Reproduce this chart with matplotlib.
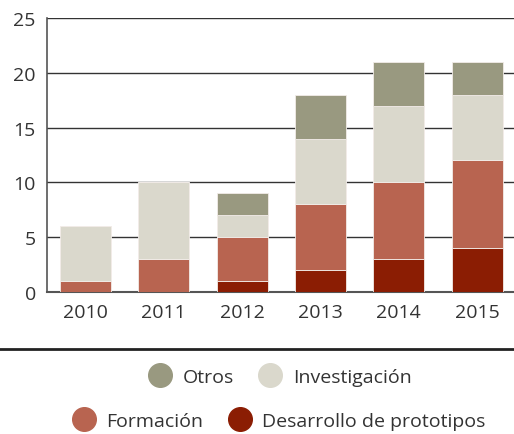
import matplotlib.pyplot as plt
from matplotlib.lines import Line2D
import numpy as np

plt.rcParams['font.family'] = ['Open Sans', 'DejaVu Sans']

years = ['2010', '2011', '2012', '2013', '2014', '2015']
desarrollo = [0, 0, 1, 2, 3, 4]
formacion = [1, 3, 4, 6, 7, 8]
investigacion = [5, 7, 2, 6, 7, 6]
otros = [0, 0, 2, 4, 4, 3]

series = [
    ('Desarrollo de prototipos', desarrollo, '#8b1d03'),
    ('Formación', formacion, '#b86450'),
    ('Investigación', investigacion, '#dad8cc'),
    ('Otros', otros, '#999980'),
]

fig = plt.figure(figsize=(5.14, 4.35), dpi=100)
ax = fig.add_axes([0.0914, 0.3264, 0.9086, 0.6299])

x = np.arange(len(years))
bottom = np.zeros(len(years))
for name, vals, col in series:
    ax.bar(x, vals, bottom=bottom, width=0.65, color=col,
           edgecolor='#f2ece8', linewidth=0.6, zorder=3)
    bottom += np.array(vals)

ax.set_ylim(0, 25)
ax.set_xlim(-0.49, 5.47)
ax.set_yticks([0, 5, 10, 15, 20, 25])
ax.set_xticks(x)
ax.set_xticklabels(years)
ax.yaxis.grid(True, color='#333333', linewidth=1.0, zorder=0)
ax.tick_params(axis='both', length=0, labelsize=14, colors='#333333', pad=8)
ax.tick_params(axis='y', pad=8)
for s in ['top', 'right']:
    ax.spines[s].set_visible(False)
ax.spines['left'].set_color('#555555')
ax.spines['bottom'].set_color('#555555')
ax.spines['left'].set_linewidth(1.2)
ax.spines['bottom'].set_linewidth(1.5)

# separator line under the axis
fig.add_artist(Line2D([0, 1], [1 - 350 / 435, 1 - 350 / 435], color='#222222', linewidth=2))

def handle(c):
    return Line2D([], [], marker='o', linestyle='none', markersize=17,
                  markerfacecolor=c, markeredgecolor=c)

leg1 = fig.legend([handle('#999980'), handle('#dad8cc')], ['Otros', 'Investigación'],
                  loc='center', bbox_to_anchor=(0.537, 1 - 378 / 435), ncol=2,
                  frameon=False, fontsize=14, handletextpad=0.15, columnspacing=0.9,
                  labelcolor='#333333')
leg2 = fig.legend([handle('#b86450'), handle('#8b1d03')], ['Formación', 'Desarrollo de prototipos'],
                  loc='center', bbox_to_anchor=(0.535, 1 - 422 / 435), ncol=2,
                  frameon=False, fontsize=14, handletextpad=0.15, columnspacing=0.9,
                  labelcolor='#333333')

fig.savefig('out.png', dpi=100)
